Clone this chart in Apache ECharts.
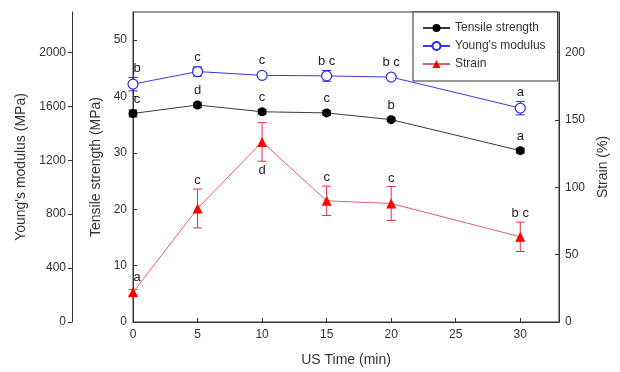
<!DOCTYPE html>
<html>
<head>
<meta charset="utf-8">
<script src="https://cdn.jsdelivr.net/npm/echarts@6/dist/echarts.min.js"></script>
<style>
  html, body { margin: 0; padding: 0; background: #fff; }
  #chart { width: 620px; height: 372px; }
</style>
</head>
<body>
<div id="chart"></div>
<script>
const times = [0, 5, 10, 15, 20, 30]
const tensile = [37.0, 38.5, 37.3, 37.1, 35.9, 30.4]
const tensileErr = [0.6, 0.4, 0.4, 0.4, 0.3, 0.4]
const tensileLetters = ['c', 'd', 'c', 'c', 'b', 'a']
const modulus = [1765, 1858, 1830, 1826, 1817, 1587]
const modulusErr = [50, 35, 12, 40, 15, 50]
const modulusLetters = ['b', 'c', 'c', 'b c', 'b c', 'a']
const strain = [22.0, 84.2, 133.6, 89.9, 87.9, 63.2]
const strainErr = [2, 14.4, 14.3, 10.9, 12.6, 10.9]
const strainLetters = ['a', 'c', 'd', 'c', 'c', 'b c']
const xTicks = [0, 5, 10, 15, 20, 25, 30]
const tensileTicks = [0, 10, 20, 30, 40, 50]
const modulusTicks = [0, 400, 800, 1200, 1600, 2000]
const strainTicks = [0, 50, 100, 150, 200]

const FONT = 'Liberation Sans, Arial, sans-serif'
const AXIS_COLOR = '#333'

const chart = echarts.init(document.getElementById('chart'))

function valueAxis(opts) {
  return Object.assign({
    type: 'value',
    splitLine: { show: false },
    axisLine: { show: true, onZero: false, lineStyle: { color: AXIS_COLOR, width: 1 } },
    axisTick: { show: true, inside: true, length: 4, customValues: opts.ticks, lineStyle: { color: AXIS_COLOR } },
    axisLabel: {
      margin: 6, color: '#333', fontSize: 12, fontFamily: FONT,
      customValues: opts.ticks,
      formatter: v => String(v)
    },
    nameLocation: 'middle',
    nameTextStyle: { fontSize: 14, color: '#333', fontFamily: FONT }
  }, opts.extra)
}

// error bars + significance letters, drawn as a custom series
function errorSeries(key, yIdx, values, errs, letters, color, lettersBelow) {
  return {
    type: 'custom',
    name: key + '-err',
    yAxisIndex: yIdx,
    z: 1,
    silent: true,
    data: times.map((t, i) => [t, values[i] - errs[i], values[i] + errs[i], values[i]]),
    encode: { x: 0, y: [1, 2] },
    renderItem(params, api) {
      const i = params.dataIndex
      const x = api.value(0)
      const lo = api.coord([x, api.value(1)])
      const hi = api.coord([x, api.value(2)])
      const mid = api.coord([x, api.value(3)])
      const w = 4.5
      const lineStyle = { stroke: color, lineWidth: 1 }
      const below = lettersBelow.indexOf(i) >= 0
      const ty = below ? Math.max(lo[1], mid[1] + 6) + 3 : Math.min(hi[1], mid[1] - 6) - 2
      return {
        type: 'group',
        children: [
          { type: 'line', shape: { x1: lo[0], y1: lo[1], x2: hi[0], y2: hi[1] }, style: lineStyle },
          { type: 'line', shape: { x1: lo[0] - w, y1: lo[1], x2: lo[0] + w, y2: lo[1] }, style: lineStyle },
          { type: 'line', shape: { x1: hi[0] - w, y1: hi[1], x2: hi[0] + w, y2: hi[1] }, style: lineStyle },
          {
            type: 'text',
            x: mid[0] + (i === 0 ? 4 : 0),
            y: ty,
            style: {
              text: letters[i],
              fill: '#222',
              font: '13px ' + FONT,
              align: 'center',
              verticalAlign: below ? 'top' : 'bottom'
            }
          }
        ]
      }
    }
  }
}

chart.setOption({
  animation: false,
  backgroundColor: '#fff',
  grid: {
    left: 133,
    right: 61,
    top: 12,
    bottom: 50,
    show: true,
    borderColor: AXIS_COLOR,
    borderWidth: 1
  },
  legend: {
    data: ['Tensile strength', "Young's modulus", 'Strain'],
    orient: 'vertical',
    left: 413,
    top: 12,
    padding: [10, 12, 11, 9],
    itemWidth: 27,
    itemHeight: 10,
    itemGap: 6,
    backgroundColor: '#fff',
    borderColor: AXIS_COLOR,
    borderWidth: 1,
    textStyle: { fontSize: 12, color: '#333', fontFamily: FONT }
  },
  xAxis: {
    type: 'value',
    min: 0,
    max: 33,
    name: 'US Time (min)',
    nameLocation: 'middle',
    nameGap: 31,
    nameTextStyle: { fontSize: 14, color: '#333', fontFamily: FONT },
    splitLine: { show: false },
    axisLine: { show: true, onZero: false, lineStyle: { color: AXIS_COLOR } },
    axisTick: { show: true, inside: true, length: 4, customValues: xTicks, lineStyle: { color: AXIS_COLOR } },
    axisLabel: { margin: 7, color: '#333', fontSize: 12, fontFamily: FONT, customValues: xTicks }
  },
  yAxis: [
    valueAxis({
      ticks: tensileTicks,
      extra: { min: 0, max: 55, position: 'left', name: 'Tensile strength (MPa)', nameGap: 22 }
    }),
    valueAxis({
      ticks: modulusTicks,
      extra: {
        min: 0, max: 2300, position: 'left', offset: 61,
        name: "Young's modulus (MPa)", nameGap: 42,
        axisTick: { show: true, inside: false, length: 4, customValues: modulusTicks, lineStyle: { color: AXIS_COLOR } }
      }
    }),
    valueAxis({
      ticks: strainTicks,
      extra: { min: 0, max: 230, position: 'right', name: 'Strain (%)', nameGap: 37 }
    })
  ],
  series: [
    errorSeries('tensile', 0, tensile, tensileErr, tensileLetters, '#111', []),
    errorSeries('modulus', 1, modulus, modulusErr, modulusLetters, '#2b2be0', []),
    errorSeries('strain', 2, strain, strainErr, strainLetters, '#e0303e', [2]),
    {
      type: 'line',
      name: 'Tensile strength',
      yAxisIndex: 0,
      z: 3,
      data: times.map((t, i) => [t, tensile[i]]),
      symbol: 'circle',
      symbolSize: 9,
      itemStyle: { color: '#000' },
      lineStyle: { color: '#3a3a3a', width: 1 }
    },
    {
      type: 'line',
      name: "Young's modulus",
      yAxisIndex: 1,
      z: 3,
      data: times.map((t, i) => [t, modulus[i]]),
      symbol: 'circle',
      symbolSize: 10,
      itemStyle: { color: '#fff', borderColor: '#2b2be0', borderWidth: 1.2 },
      lineStyle: { color: '#3a3ae6', width: 1 }
    },
    {
      type: 'line',
      name: 'Strain',
      yAxisIndex: 2,
      z: 3,
      data: times.map((t, i) => [t, strain[i]]),
      symbol: 'triangle',
      symbolSize: 10,
      itemStyle: { color: '#ff0000' },
      lineStyle: { color: '#e0606e', width: 1 }
    }
  ]
})
</script>
</body>
</html>
